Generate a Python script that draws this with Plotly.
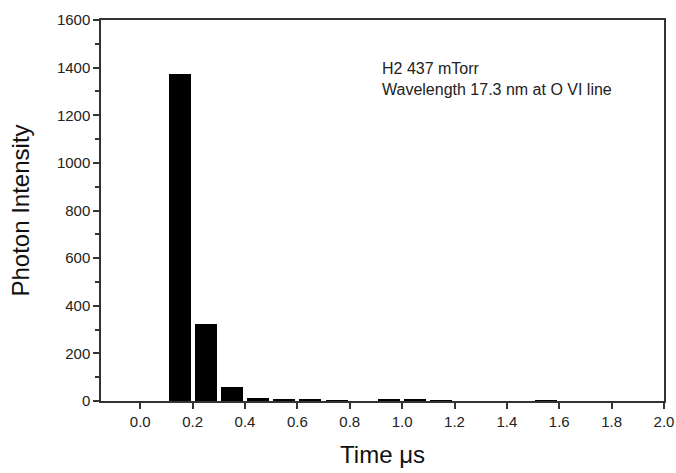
import plotly.graph_objects as go

# bin centres (us) and photon counts
time_us = [0.15, 0.25, 0.35, 0.45, 0.55, 0.65, 0.75, 0.85, 0.95, 1.05,
           1.15, 1.25, 1.35, 1.45, 1.55, 1.65, 1.75, 1.85, 1.95]
intensity = [1375, 322, 60, 14, 7, 7, 3, 0, 5, 5,
             2, 0, 0, 0, 3, 0, 0, 0, 0]

x_ticks = [0.0, 0.2, 0.4, 0.6, 0.8, 1.0, 1.2, 1.4, 1.6, 1.8, 2.0]
y_ticks = [0, 200, 400, 600, 800, 1000, 1200, 1400, 1600]

fig = go.Figure()
fig.add_trace(go.Bar(x=time_us, y=intensity, width=0.084,
                     marker=dict(color="black", line=dict(width=0))))

fig.add_annotation(
    x=0.495, y=0.845, xref="paper", yref="paper",
    xanchor="left", yanchor="middle", showarrow=False, align="left",
    text="H2 437 mTorr<br>Wavelength 17.3 nm at O VI line",
    font=dict(size=16, color="#222"),
)

axis_font = dict(family="Liberation Sans, Arial, sans-serif", size=15, color="#222")

fig.update_xaxes(
    range=[-0.15, 2.0], tickvals=x_ticks, ticktext=[f"{v:.1f}" for v in x_ticks],
    ticks="outside", ticklen=6, tickwidth=1.5, tickcolor="#333",
    showline=True, linecolor="#333", linewidth=1.5, mirror=True,
    showgrid=False, zeroline=False, tickfont=axis_font, automargin=False,
    title=dict(text="Time μs", font=dict(size=24, color="#111"), standoff=17),
)
fig.update_yaxes(
    range=[0, 1600], tickvals=y_ticks,
    ticks="outside", ticklen=6, tickwidth=1.5, tickcolor="#333",
    minor=dict(dtick=100, ticks="outside", ticklen=4, tickwidth=1.5, tickcolor="#333"),
    showline=True, linecolor="#333", linewidth=1.5, mirror=True,
    showgrid=False, zeroline=False, tickfont=axis_font, automargin=False,
    title=dict(text="Photon Intensity", font=dict(size=24, color="#111"), standoff=20),
)

fig.update_layout(
    width=676, height=473,
    margin=dict(l=101, r=12, t=20, b=72),
    paper_bgcolor="white", plot_bgcolor="white",
    font=dict(family="Liberation Sans, Arial, sans-serif"),
    showlegend=False, bargap=0,
)

# drop the default body margin so the figure fills the window exactly
fig.write_html("out.html", config={"displayModeBar": False},
               post_script="document.body.style.margin='0';")
